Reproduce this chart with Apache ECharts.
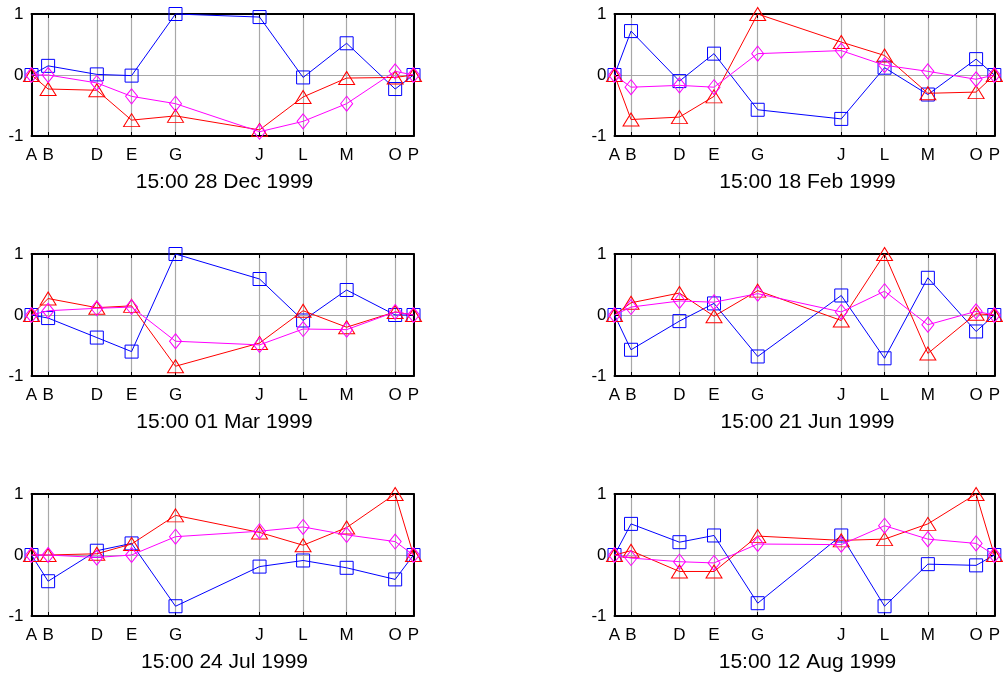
<!DOCTYPE html>
<html>
<head>
<meta charset="utf-8">
<script src="https://cdn.jsdelivr.net/npm/echarts@6/dist/echarts.min.js"></script>
<style>
html,body{margin:0;padding:0;background:#fff;}
#chart{width:1003px;height:675px;}
</style>
</head>
<body>
<div id="chart"></div>
<script>
// x tick letters and their positions along the axis
const letters = ['A','B','D','E','G','J','L','M','O','P'];
const xPos = [0, 4.35, 17.1, 26.2, 37.7, 59.7, 71.1, 82.5, 95.2, 100];
const yTicks = [-1, 0, 1];

const panelTitles = ['15:00 28 Dec 1999', '15:00 18 Feb 1999', '15:00 01 Mar 1999',
                     '15:00 21 Jun 1999', '15:00 24 Jul 1999', '15:00 12 Aug 1999'];

// 28 Dec 1999
const dec28Blue    = [0, 0.15, 0.01, -0.01, 1.0, 0.95, -0.04, 0.52, -0.23, 0];
const dec28Red     = [0, -0.23, -0.25, -0.74, -0.67, -0.9, -0.36, -0.05, -0.04, 0];
const dec28Magenta = [0, 0.0, -0.13, -0.35, -0.47, -0.93, -0.76, -0.47, 0.06, 0];
// 18 Feb 1999
const feb18Blue    = [0, 0.72, -0.1, 0.35, -0.57, -0.72, 0.12, -0.32, 0.26, 0];
const feb18Red     = [0, -0.73, -0.69, -0.35, 1.0, 0.54, 0.32, -0.3, -0.28, 0];
const feb18Magenta = [0, -0.2, -0.17, -0.2, 0.35, 0.4, 0.16, 0.06, -0.07, 0];
// 01 Mar 1999
const mar01Blue    = [0, -0.05, -0.37, -0.6, 1.0, 0.59, -0.09, 0.41, 0.0, 0];
const mar01Red     = [0, 0.27, 0.12, 0.15, -0.84, -0.46, 0.07, -0.2, 0.05, 0];
const mar01Magenta = [0, 0.07, 0.11, 0.13, -0.43, -0.49, -0.23, -0.24, 0.05, 0];
// 21 Jun 1999
const jun21Blue    = [0, -0.57, -0.1, 0.19, -0.68, 0.32, -0.71, 0.61, -0.27, 0];
const jun21Red     = [0, 0.2, 0.36, -0.02, 0.4, -0.09, 1.0, -0.63, 0.02, 0];
const jun21Magenta = [0, 0.13, 0.23, 0.21, 0.35, 0.05, 0.39, -0.16, 0.06, 0];
// 24 Jul 1999
const jul24Blue    = [0, -0.43, 0.07, 0.19, -0.84, -0.19, -0.09, -0.21, -0.4, 0];
const jul24Red     = [0, 0.0, 0.02, 0.18, 0.65, 0.37, 0.16, 0.45, 1.0, 0];
const jul24Magenta = [0, 0.0, -0.04, 0.0, 0.3, 0.39, 0.46, 0.33, 0.22, 0];
// 12 Aug 1999
const aug12Blue    = [0, 0.51, 0.21, 0.32, -0.79, 0.32, -0.84, -0.15, -0.17, 0];
const aug12Red     = [0, 0.07, -0.27, -0.27, 0.31, 0.24, 0.26, 0.51, 1.0, 0];
const aug12Magenta = [0, -0.05, -0.11, -0.13, 0.18, 0.17, 0.48, 0.26, 0.19, 0];

const panels = [
  [dec28Blue, dec28Red, dec28Magenta],
  [feb18Blue, feb18Red, feb18Magenta],
  [mar01Blue, mar01Red, mar01Magenta],
  [jun21Blue, jun21Red, jun21Magenta],
  [jul24Blue, jul24Red, jul24Magenta],
  [aug12Blue, aug12Red, aug12Magenta]
];

const FONT = "'Liberation Sans', Arial, sans-serif";
const colLeft = [31.5, 614.5];
const rowTop = [14, 254, 494];
const W = 382, H = 122;

const grids = [], xAxes = [], yAxes = [], series = [], titles = [];
const styles = [
  {color: '#0000ff', symbol: 'rect', size: 13},
  {color: '#ff0000', symbol: 'triangle', size: [16, 13]},
  {color: '#ff00ff', symbol: 'diamond', size: [12, 15]}
];

panels.forEach((vals, i) => {
  const col = i % 2, row = Math.floor(i / 2);
  grids.push({left: colLeft[col], top: rowTop[row], width: W, height: H});
  // bottom x axis with letters
  xAxes.push({
    type: 'value', gridIndex: i, min: 0, max: 100, position: 'bottom',
    axisLine: {show: true, onZero: false, lineStyle: {color: '#000', width: 2}},
    axisTick: {show: true, inside: true, length: 4, customValues: xPos, lineStyle: {color: '#000'}},
    axisLabel: {show: true, margin: 11, customValues: xPos, color: '#000', fontSize: 17, fontFamily: FONT,
      formatter: v => { const k = xPos.indexOf(v); return k >= 0 ? letters[k] : ''; }},
    splitLine: {show: true, lineStyle: {color: '#a8a8a8', width: 1.2}}
  });
  // top x axis (box)
  xAxes.push({
    type: 'value', gridIndex: i, min: 0, max: 100, position: 'top',
    axisLine: {show: true, onZero: false, lineStyle: {color: '#000', width: 2}},
    axisTick: {show: true, inside: true, length: 4, customValues: xPos, lineStyle: {color: '#000'}},
    axisLabel: {show: false}, splitLine: {show: false}
  });
  yAxes.push({
    type: 'value', gridIndex: i, min: -1, max: 1, interval: 1, position: 'left',
    axisLine: {show: true, onZero: false, lineStyle: {color: '#000', width: 2}},
    axisTick: {show: true, inside: true, length: 4, lineStyle: {color: '#000'}},
    axisLabel: {show: true, margin: 8, padding: [6, 0, 0, 0], color: '#000', fontSize: 17, fontFamily: FONT},
    splitLine: {show: true, lineStyle: {color: '#a8a8a8', width: 1.2}}
  });
  yAxes.push({
    type: 'value', gridIndex: i, min: -1, max: 1, interval: 1, position: 'right',
    axisLine: {show: true, onZero: false, lineStyle: {color: '#000', width: 2}},
    axisTick: {show: true, inside: true, length: 4, lineStyle: {color: '#000'}},
    axisLabel: {show: false}, splitLine: {show: false}
  });
  vals.forEach((arr, s) => {
    const st = styles[s];
    series.push({
      type: 'line', xAxisIndex: 2 * i, yAxisIndex: 2 * i, clip: false,
      data: arr.map((v, k) => [xPos[k], v]),
      symbol: st.symbol, symbolSize: st.size, showAllSymbol: true,
      lineStyle: {color: st.color, width: 1},
      itemStyle: {color: 'rgba(255,255,255,0)', borderColor: st.color, borderWidth: 1},
      emphasis: {disabled: true}, animation: false, z: 2 + s
    });
  });
  titles.push({
    text: panelTitles[i], left: colLeft[col] + W / 2 - 3, top: rowTop[row] + 153, textAlign: 'center',
    textStyle: {fontSize: 21, fontWeight: 'normal', color: '#000', fontFamily: FONT}
  });
});

const chart = echarts.init(document.getElementById('chart'), null, {renderer: 'canvas'});
chart.setOption({
  backgroundColor: '#fff', animation: false,
  title: titles, grid: grids, xAxis: xAxes, yAxis: yAxes, series: series
});
</script>
</body>
</html>
